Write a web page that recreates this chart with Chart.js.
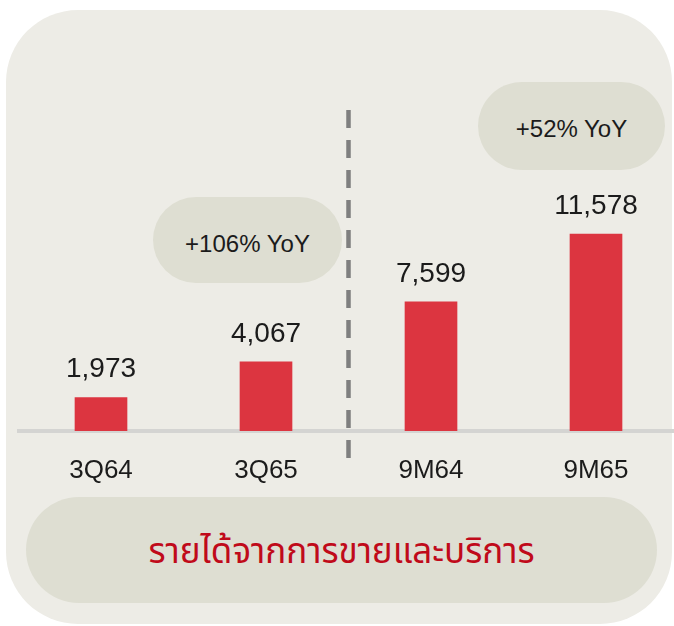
<!DOCTYPE html>
<html>
<head>
<meta charset="utf-8">
<script src="https://cdn.jsdelivr.net/npm/chart.js@4/dist/chart.umd.min.js"></script>
<style>
html,body{margin:0;padding:0;background:#ffffff;overflow:hidden;width:674px;height:626px;}
#stage{position:relative;width:674px;height:626px;overflow:hidden;}
.card{position:absolute;left:6px;top:10px;width:666px;height:614px;border-radius:72px;background:#edece6;}
.pill{position:absolute;background:#deded2;display:flex;align-items:center;justify-content:center;box-sizing:border-box;
  font-family:"Liberation Sans",Arial,sans-serif;color:#1b1b1b;white-space:nowrap;}
#p1{left:153px;top:197px;width:189px;height:86px;border-radius:43px;font-size:24px;padding-top:8px;}
#p2{left:478px;top:82px;width:187px;height:88px;border-radius:44px;font-size:24px;padding-top:6px;}
#p3{left:26px;top:497px;width:631px;height:106px;border-radius:53px;font-size:35px;color:#c00a1a;padding-top:4px;
  font-family:"Noto Sans Thai","Noto Sans Thai UI","Noto Sans","Liberation Sans",sans-serif;}
#c{position:absolute;left:0;top:0;}
</style>
</head>
<body>
<div id="stage">
  <div class="card"></div>
  <div class="pill" id="p1"></div>
  <div class="pill" id="p2"></div>
  <div class="pill" id="p3"></div>
  <canvas id="c" width="680" height="626"></canvas>
</div>
<script>
// ---- data ----
const categories = ['3Q64', '3Q65', '9M64', '9M65'];
const revenue = [1973, 4067, 7599, 11578];
const yoyLabels = ['+106% YoY', '+52% YoY'];
const chartTitle = 'รายได้จากการขายและบริการ';

document.getElementById('p1').textContent = yoyLabels[0];
document.getElementById('p2').textContent = yoyLabels[1];
document.getElementById('p3').textContent = chartTitle;

const valueLabelPlugin = {
  id: 'valueLabels',
  afterDatasetsDraw(chart) {
    const ctx = chart.ctx;
    const meta = chart.getDatasetMeta(0);
    ctx.save();
    ctx.font = '28px "Liberation Sans", Arial, sans-serif';
    ctx.fillStyle = '#1b1b1b';
    ctx.textAlign = 'center';
    ctx.textBaseline = 'alphabetic';
    meta.data.forEach((bar, i) => {
      ctx.fillText(revenue[i].toLocaleString('en-US'), bar.x, bar.y - 20);
    });
    ctx.restore();
  }
};

const dividerPlugin = {
  id: 'divider',
  afterDraw(chart) {
    const xs = chart.scales.x;
    const x = (xs.getPixelForValue(1) + xs.getPixelForValue(2)) / 2;
    const ctx = chart.ctx;
    ctx.save();
    ctx.strokeStyle = '#7f7f7f';
    ctx.lineWidth = 4.5;
    ctx.setLineDash([18, 12]);
    ctx.beginPath();
    ctx.moveTo(x, 110);
    ctx.lineTo(x, 462);
    ctx.stroke();
    ctx.restore();
  }
};

new Chart(document.getElementById('c'), {
  type: 'bar',
  data: {
    labels: categories,
    datasets: [{
      data: revenue,
      backgroundColor: '#dc3540',
      borderWidth: 0,
      barThickness: 52
    }]
  },
  options: {
    responsive: false,
    animation: false,
    layout: { padding: { left: 18.5, right: 1.5, top: 40, bottom: 115.8 } },
    plugins: { legend: { display: false }, tooltip: { enabled: false } },
    scales: {
      x: {
        z: 1,
        offset: true,
        grid: { display: false, drawTicks: false },
        border: { display: true, color: '#d4d4d2', width: 4 },
        ticks: {
          padding: 24,
          color: '#1b1b1b',
          font: { family: '"Liberation Sans", Arial, sans-serif', size: 26 }
        }
      },
      y: { display: false, min: 0, max: 23000 }
    }
  },
  plugins: [valueLabelPlugin, dividerPlugin]
});
</script>
</body>
</html>
